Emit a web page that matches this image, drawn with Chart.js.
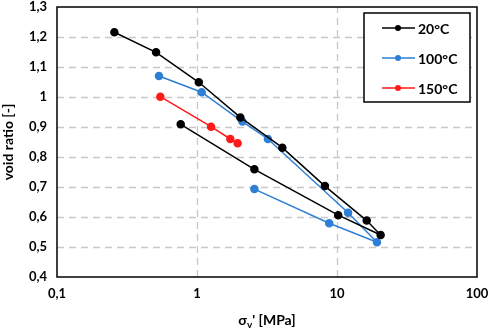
<!DOCTYPE html>
<html>
<head>
<meta charset="utf-8">
<script src="https://cdn.jsdelivr.net/npm/chart.js@4"></script>
<style>
  html, body { margin: 0; padding: 0; background: #fff; }
  #wrap { width: 491px; height: 335px; }
</style>
</head>
<body>
<div id="wrap"><canvas id="chart" width="491" height="335"></canvas></div>
<script>
// values
const labels = ['20°C', '100°C', '150°C'];
const colors = ['#000000', '#2e7fd6', '#ff1a1a'];

const stress20 = [0.257, 0.51, 1.03, 2.04, 4.07, 8.2, 16.3, 20.5, 10.2, 2.57, 0.765];
const void20   = [1.216, 1.149, 1.049, 0.932, 0.831, 0.703, 0.588, 0.54, 0.606, 0.759, 0.909];

const stress100 = [0.535, 1.08, 2.11, 3.21, 12.0, 19.3, 8.8, 2.57];
const void100   = [1.07, 1.016, 0.918, 0.86, 0.614, 0.516, 0.579, 0.693];

const stress150 = [0.547, 1.26, 1.73, 1.95];
const void150   = [1.001, 0.901, 0.86, 0.846];

const xTicks = [0.1, 1, 10, 100];
const yMin = 0.4, yMax = 1.3, yStep = 0.1;

const FONT = 'Lato, "Open Sans", sans-serif';

function pts(xs, ys) {
  return xs.map((x, i) => ({ x: x, y: ys[i] }));
}

const series = [pts(stress20, void20), pts(stress100, void100), pts(stress150, void150)];

// dashed grid from the scale ticks
const gridPlugin = {
  id: 'dashGrid',
  beforeDatasetsDraw(chart) {
    const a = chart.chartArea, ctx = chart.ctx;
    const xs = chart.scales.x, ys = chart.scales.y;
    ctx.save();
    ctx.strokeStyle = '#c8c8c8';
    ctx.lineWidth = 1.3;
    ctx.setLineDash([7, 5]);
    xs.ticks.forEach(t => {
      const px = Math.round(xs.getPixelForValue(t.value)) + 0.5;
      if (px <= a.left + 1 || px >= a.right - 1) return;
      ctx.beginPath();
      ctx.moveTo(px, a.bottom);
      ctx.lineTo(px, a.top);
      ctx.stroke();
    });
    ys.ticks.forEach(t => {
      const py = Math.round(ys.getPixelForValue(t.value)) + 0.5;
      if (py <= a.top + 1 || py >= a.bottom - 1) return;
      ctx.beginPath();
      ctx.moveTo(a.left, py);
      ctx.lineTo(a.right, py);
      ctx.stroke();
    });
    ctx.restore();
  }
};

// frame around the plot
const framePlugin = {
  id: 'frame',
  afterDraw(chart) {
    const a = chart.chartArea, ctx = chart.ctx;
    ctx.save();
    ctx.strokeStyle = '#000';
    ctx.lineWidth = 1.5;
    ctx.strokeRect(a.left, a.top, a.right - a.left, a.bottom - a.top);
    ctx.restore();
  }
};

// x axis title with subscript
const xTitlePlugin = {
  id: 'xTitle',
  afterDraw(chart) {
    const a = chart.chartArea, ctx = chart.ctx;
    const cx = (a.left + a.right) / 2, y = 325;
    ctx.save();
    ctx.fillStyle = '#000';
    ctx.textBaseline = 'alphabetic';
    const big = 'bold 14px ' + FONT, small = 'bold 10px ' + FONT;
    ctx.font = big;
    const w1 = ctx.measureText('σ').width;
    const w3 = ctx.measureText("' [MPa]").width;
    ctx.font = small;
    const w2 = ctx.measureText('v').width;
    let x = cx - (w1 + w2 + w3) / 2;
    ctx.font = big;
    ctx.fillText('σ', x, y);
    x += w1;
    ctx.font = small;
    ctx.fillText('v', x, y + 3);
    x += w2;
    ctx.font = big;
    ctx.fillText("' [MPa]", x, y);
    ctx.restore();
  }
};

// boxed legend, built from the datasets
const legendPlugin = {
  id: 'boxLegend',
  afterDraw(chart) {
    const ctx = chart.ctx;
    const bx = 364, by = 13, bw = 106, bh = 89;
    ctx.save();
    ctx.fillStyle = '#fff';
    ctx.fillRect(bx, by, bw, bh);
    ctx.strokeStyle = '#000';
    ctx.lineWidth = 1.5;
    ctx.strokeRect(bx, by, bw, bh);
    chart.data.datasets.forEach((ds, i) => {
      const y = by + 15 + i * 30;
      ctx.strokeStyle = ds.borderColor;
      ctx.lineWidth = 1.5;
      ctx.beginPath();
      ctx.moveTo(bx + 18, y);
      ctx.lineTo(bx + 51, y);
      ctx.stroke();
      ctx.fillStyle = ds.borderColor;
      ctx.beginPath();
      ctx.arc(bx + 34, y, 3, 0, Math.PI * 2);
      ctx.fill();
      ctx.fillStyle = '#000';
      ctx.font = 'bold 14px ' + FONT;
      ctx.textBaseline = 'middle';
      ctx.fillText(ds.label, bx + 54, y + 1);
    });
    ctx.restore();
  }
};

new Chart(document.getElementById('chart').getContext('2d'), {
  type: 'scatter',
  data: {
    datasets: series.map((d, i) => ({
      label: labels[i],
      data: d,
      showLine: true,
      borderColor: colors[i],
      backgroundColor: colors[i],
      borderWidth: 1.5,
      pointRadius: 3.5,
      pointHoverRadius: 3.5,
      tension: 0
    }))
  },
  options: {
    responsive: false,
    animation: false,
    layout: { padding: { top: 7, right: 14, left: 0, bottom: 0 } },
    plugins: {
      legend: { display: false },
      tooltip: { enabled: false }
    },
    scales: {
      x: {
        type: 'logarithmic',
        min: 0.1,
        max: 100,
        afterBuildTicks: s => { s.ticks = xTicks.map(v => ({ value: v })); },
        afterFit: s => { s.height = 58; s.paddingLeft = 0; s.paddingRight = 0; },
        ticks: {
          color: '#000',
          padding: 9,
          maxRotation: 0,
          autoSkip: false,
          font: { family: FONT, size: 13, weight: 'bold' },
          callback: v => String(v).replace('.', ',')
        },
        grid: { display: false, drawTicks: false },
        border: { display: false }
      },
      y: {
        min: yMin,
        max: yMax,
        afterFit: s => { s.width = 57; s.paddingTop = 0; s.paddingBottom = 0; },
        ticks: {
          stepSize: yStep,
          color: '#000',
          padding: 10,
          font: { family: FONT, size: 13, weight: 'bold' },
          callback: v => String(Math.round(v * 10) / 10).replace('.', ',')
        },
        title: {
          display: true,
          text: 'void ratio [-]',
          color: '#000',
          padding: { top: 0, bottom: 4 },
          font: { family: FONT, size: 14, weight: 'bold' }
        },
        grid: { display: false, drawTicks: false },
        border: { display: false }
      }
    }
  },
  plugins: [gridPlugin, framePlugin, xTitlePlugin, legendPlugin]
});
</script>
</body>
</html>
